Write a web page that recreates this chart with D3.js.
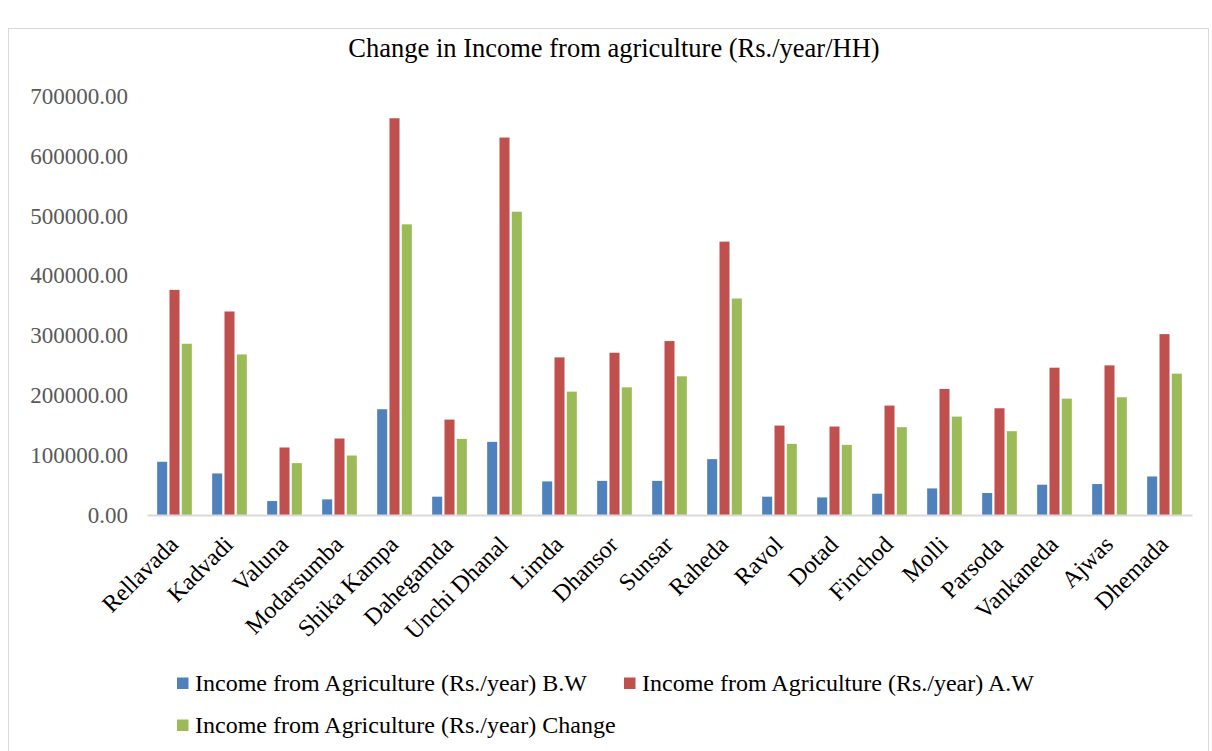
<!DOCTYPE html>
<html>
<head>
<meta charset="utf-8">
<script src="https://cdn.jsdelivr.net/npm/d3@7"></script>
<style>
  html, body { margin: 0; padding: 0; background: #fff; }
  svg { display: block; }
  svg text { font-family: "Liberation Serif", "Times New Roman", serif; }
</style>
</head>
<body>
<svg id="chart" width="1212" height="751"></svg>
<script>
// Villages surveyed
const villages = ["Rellavada", "Kadvadi", "Valuna", "Modarsumba", "Shika Kampa", "Dahegamda",
  "Unchi Dhanal", "Limda", "Dhansor", "Sunsar", "Raheda", "Ravol", "Dotad", "Finchod",
  "Molli", "Parsoda", "Vankaneda", "Ajwas", "Dhemada"];

// Income from agriculture (Rs./year) before works
const incomeBW = [88900, 69400, 23300, 26100, 176700, 30600, 122200, 56100, 57000, 57000,
  93300, 30600, 29400, 35600, 44400, 36700, 50600, 51700, 64400];

// Income from agriculture (Rs./year) after works
const incomeAW = [376100, 340000, 112800, 127800, 662800, 159400, 630600, 263300, 271100, 290600,
  456700, 149400, 147800, 182800, 210600, 178300, 246100, 250000, 302200];

// Change in income (Rs./year)
const incomeChange = [286100, 268300, 86700, 99400, 485600, 127200, 506700, 206100, 213300, 231700,
  361700, 118900, 117200, 146700, 164400, 140000, 194400, 196700, 236100];

const yTicks = [0, 100000, 200000, 300000, 400000, 500000, 600000, 700000];

const seriesNames = [
  "Income from Agriculture (Rs./year) B.W",
  "Income from Agriculture (Rs./year) A.W",
  "Income from Agriculture (Rs./year) Change"
];
const seriesColors = ["#4F81BD", "#C0504D", "#9BBB59"];
const seriesValues = [incomeBW, incomeAW, incomeChange];

const svg = d3.select("#chart");
const font = "'Liberation Serif', 'Times New Roman', serif";

// Chart frame
svg.append("rect")
  .attr("x", 8.5).attr("y", 28.5)
  .attr("width", 1200).attr("height", 740)
  .attr("fill", "#fff").attr("stroke", "#D9D9D9").attr("stroke-width", 1);

// Title
svg.append("text")
  .attr("x", 614).attr("y", 57)
  .attr("text-anchor", "middle")
  .style("font-family", font).style("font-size", "26.5px")
  .attr("fill", "#000")
  .text("Change in Income from agriculture (Rs./year/HH)");

const plot = { left: 147, right: 1192, top: 96, bottom: 515 };

const x = d3.scaleBand().domain(villages).range([plot.left, plot.right]).paddingInner(0.37).paddingOuter(0.185);
const xs = d3.scaleBand().domain(d3.range(3)).range([0, x.bandwidth()]).paddingInner(0.187);
const y = d3.scaleLinear().domain([0, 700000]).range([plot.bottom, plot.top]);

// Value axis labels (no line, no ticks)
const yAxis = d3.axisLeft(y).tickValues(yTicks).tickFormat(d3.format(".2f")).tickSize(0).tickPadding(0);
const yg = svg.append("g").attr("transform", `translate(128,0)`).call(yAxis);
yg.select(".domain").remove();
yg.selectAll("text")
  .style("font-family", font).style("font-size", "23px")
  .attr("fill", "#595959");

// Bars
const groups = svg.append("g").selectAll("g")
  .data(villages)
  .join("g")
  .attr("transform", d => `translate(${x(d)},0)`);

groups.selectAll("rect")
  .data((d, i) => seriesValues.map((vals, s) => ({ s, v: vals[i] })))
  .join("rect")
  .attr("x", d => xs(d.s))
  .attr("width", xs.bandwidth())
  .attr("y", d => y(d.v))
  .attr("height", d => y(0) - y(d.v))
  .attr("fill", d => seriesColors[d.s]);

// Category axis
const xAxis = d3.axisBottom(x).tickSize(0).tickPadding(0);
const xg = svg.append("g").attr("transform", `translate(0,${plot.bottom})`).call(xAxis);
xg.select(".domain").attr("stroke", "#D9D9D9").attr("stroke-width", 2);
xg.selectAll("text")
  .style("font-family", font).style("font-size", "24px")
  .attr("fill", "#000")
  .attr("text-anchor", "end")
  .attr("y", 0)
  .attr("dy", 0)
  .attr("transform", "translate(5,31) rotate(-45)");

// Legend
const legendItems = [
  { s: 0, x: 177, y: 683 },
  { s: 1, x: 624, y: 683 },
  { s: 2, x: 177, y: 725 }
];
const lg = svg.append("g").selectAll("g").data(legendItems).join("g")
  .attr("transform", d => `translate(${d.x},${d.y})`);
lg.append("rect")
  .attr("x", 0).attr("y", -5.5).attr("width", 11.5).attr("height", 11.5)
  .attr("fill", d => seriesColors[d.s]);
lg.append("text")
  .attr("x", 18).attr("y", 0).attr("dy", "0.33em")
  .style("font-family", font).style("font-size", "24px")
  .attr("fill", "#000")
  .text(d => seriesNames[d.s]);
</script>
</body>
</html>
